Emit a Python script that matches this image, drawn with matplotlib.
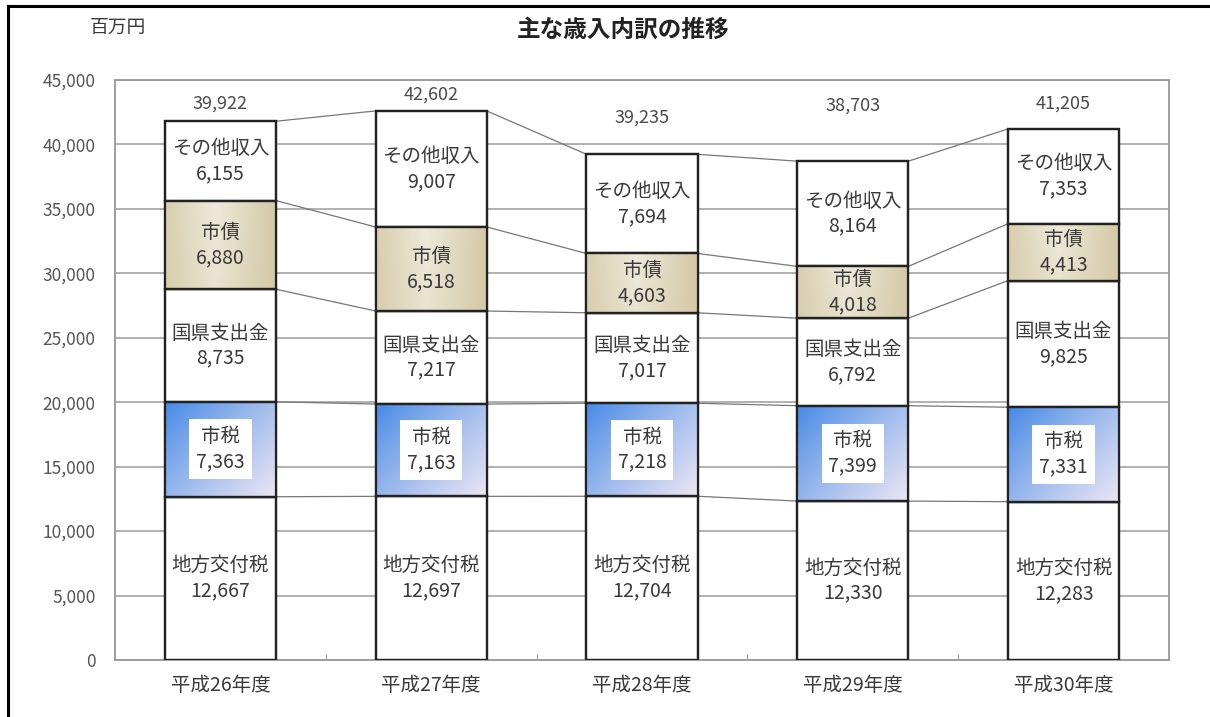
import numpy as np
import matplotlib
matplotlib.use("Agg")
import matplotlib.pyplot as plt
from matplotlib.lines import Line2D
from matplotlib.colors import to_rgb

plt.rcParams['font.family'] = ['Noto Sans CJK JP', 'DejaVu Sans']

# データ（百万円）
years = ['平成26年度', '平成27年度', '平成28年度', '平成29年度', '平成30年度']
chiho_kofuzei = [12667, 12697, 12704, 12330, 12283]
shizei = [7363, 7163, 7218, 7399, 7331]
kokken = [8735, 7217, 7017, 6792, 9825]
shisai = [6880, 6518, 4603, 4018, 4413]
sonota = [6155, 9007, 7694, 8164, 7353]
totals = [39922, 42602, 39235, 38703, 41205]

series_names = ['地方交付税', '市税', '国県支出金', '市債', 'その他収入']
series_values = [chiho_kofuzei, shizei, kokken, shisai, sonota]

# 合計ラベルの表示位置（元の図で手動配置されている）
total_label_pos = [43200, 43850, 42050, 43000, 43150]

W, H = 1210, 717
fig = plt.figure(figsize=(W / 100, H / 100), dpi=100)
ax = fig.add_axes([115 / W, 1 - 660 / H, (1169 - 115) / W, (660 - 80) / H])

x = np.arange(len(years))
width = 0.527
text_col = '#3a3a3a'


def gradient_img(kind, n=64):
    u = np.linspace(0, 1, n)[None, :]   # 左→右
    v = np.linspace(0, 1, n)[:, None]   # 上→下
    if kind == 'blue':
        t = np.clip((u * 0.9 + v * 0.7) / 1.6, 0, 1) ** 0.9
        c0, c1 = np.array(to_rgb('#4489e6')), np.array(to_rgb('#ece6f4'))
    else:
        t = 1 - np.abs(u - 0.45) / 0.55
        t = np.clip(t * (1 - 0.2 * v), 0, 1)
        c0, c1 = np.array(to_rgb('#d4c9a6')), np.array(to_rgb('#eeeadb'))
    t = np.broadcast_to(t, (n, n))
    return c0 + (c1 - c0) * t[..., None]


bottom = np.zeros(len(years))
levels = []
for name, vals in zip(series_names, series_values):
    vals = np.array(vals, dtype=float)
    ax.bar(x, vals, width, bottom=bottom, color='white', edgecolor='#222222',
           linewidth=1.6, zorder=3)
    for i in range(len(years)):
        x0, x1 = x[i] - width / 2, x[i] + width / 2
        y0, y1 = bottom[i], bottom[i] + vals[i]
        if name == '市税':
            ax.imshow(gradient_img('blue'), extent=[x0, x1, y0, y1],
                      aspect='auto', origin='upper', zorder=3.2)
        elif name == '市債':
            ax.imshow(gradient_img('tan'), extent=[x0, x1, y0, y1],
                      aspect='auto', origin='upper', zorder=3.2)
        label = f'{name}\n{int(vals[i]):,}'
        box = None
        if name == '市税':
            box = dict(boxstyle='square,pad=0.35', facecolor='white', edgecolor='none')
        ax.text(x[i], y0 + vals[i] / 2, label, ha='center', va='center',
                fontsize=14, color=text_col, linespacing=1.25, zorder=5, bbox=box)
    bottom = bottom + vals
    levels.append(bottom.copy())

# 枠線を上から描き直す
bottom = np.zeros(len(years))
for vals in series_values:
    ax.bar(x, vals, width, bottom=bottom, color='none', edgecolor='#222222',
           linewidth=1.6, zorder=4)
    bottom = bottom + np.array(vals)

# 区分線
for lv in levels:
    for i in range(len(years) - 1):
        ax.plot([x[i] + width / 2, x[i + 1] - width / 2], [lv[i], lv[i + 1]],
                color='#777777', linewidth=0.9, zorder=2)

# 合計
for i, (t, yp) in enumerate(zip(totals, total_label_pos)):
    ax.text(x[i], yp, f'{t:,}', ha='center', va='center', fontsize=13,
            color='#4a4a4a', zorder=5)

ax.set_xlim(-0.5, len(years) - 0.5)
ax.set_ylim(0, 45000)
ax.set_yticks(np.arange(0, 45001, 5000))
ax.set_yticklabels([f'{v:,}' for v in range(0, 45001, 5000)])
ax.yaxis.grid(True, color='#aaaaaa', linewidth=1.3, zorder=0)
ax.set_axisbelow(True)
ax.set_xticks(x)
ax.set_xticklabels(years)
ax.set_xticks(np.arange(0.5, len(years) - 1, 1), minor=True)
ax.tick_params(axis='x', which='major', length=0, pad=11, labelsize=14, labelcolor=text_col)
ax.tick_params(axis='x', which='minor', length=4, direction='in', color='#777777')
ax.tick_params(axis='y', length=0, pad=14, labelsize=12.5, labelcolor='#555555')
for s in ax.spines.values():
    s.set_color('#999999')
    s.set_linewidth(1.3)

fig.text(623 / W, 1 - 30 / H, '主な歳入内訳の推移', ha='center', va='center',
         fontsize=17, fontweight='bold', color='#222222')
fig.text(118 / W, 1 - 27 / H, '百万円', ha='center', va='center',
         fontsize=13.5, color=text_col)

# 外枠（上と左のみ見える）
fig.add_artist(Line2D([8 / W, 1], [1 - 6 / H, 1 - 6 / H], color='black', linewidth=2.2,
                      transform=fig.transFigure))
fig.add_artist(Line2D([8 / W, 8 / W], [0, 1 - 6 / H], color='black', linewidth=2.2,
                      transform=fig.transFigure))

fig.savefig('out.png', dpi=100)
